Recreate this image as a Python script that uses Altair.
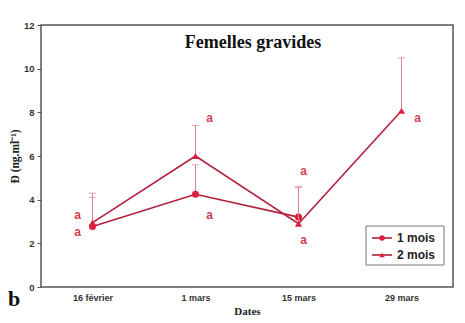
import altair as alt
import pandas as pd

dates = ["16 février", "1 mars", "15 mars", "29 mars"]

# 1 mois series (no value on 29 mars)
m1_dates = ["16 février", "1 mars", "15 mars"]
m1_vals = [2.77, 4.25, 3.2]
m1_upper = [4.1, 5.6, 4.55]

# 2 mois series
m2_dates = ["16 février", "1 mars", "15 mars", "29 mars"]
m2_vals = [2.95, 6.0, 2.9, 8.07]
m2_upper = [4.3, 7.4, 4.6, 10.5]

# significance letters
let_dates = ["16 février", "16 février", "1 mars", "1 mars", "15 mars", "15 mars", "29 mars"]
let_vals = [3.3, 2.5, 7.75, 3.3, 5.3, 2.15, 7.75]
let_text = ["a", "a", "a", "a", "a", "a", "a"]

legend_labels = ["1 mois", "2 mois"]

LINE = "#b3203c"
MARK = "#dd1f3f"
ERR = "#e3808f"
LET = "#d4404f"

d1 = pd.DataFrame({"date": m1_dates, "val": m1_vals, "up": m1_upper, "serie": "1 mois"})
d2 = pd.DataFrame({"date": m2_dates, "val": m2_vals, "up": m2_upper, "serie": "2 mois"})
dl = pd.DataFrame({"date": let_dates, "val": let_vals, "txt": let_text})

yscale = alt.Scale(domain=[0, 12])
yaxis = alt.Axis(title="Ð (ng.ml⁻¹)", values=[0, 2, 4, 6, 8, 10, 12], grid=False,
                 domain=False, tickSize=4, tickColor="#555",
                 labelFont="Liberation Sans", labelFontWeight="bold", labelFontSize=9.5,
                 labelColor="#333", labelPadding=3, titleFont="Liberation Serif",
                 titleFontWeight="bold", titleFontSize=11.5, titleColor="#222", titlePadding=3)
x = alt.X("date:N", sort=dates, scale=alt.Scale(type="point", padding=0.5, domain=dates),
          axis=alt.Axis(title="Dates", labelAngle=0, ticks=False, domain=False,
                        labelFont="Liberation Sans", labelFontWeight="bold", labelFontSize=9,
                        labelColor="#333", labelPadding=6, titleFont="Liberation Serif",
                        titleFontWeight="bold", titleFontSize=11, titleColor="#222", titlePadding=3))
y = alt.Y("val:Q", scale=yscale, axis=yaxis)
yup = alt.Y("up:Q", scale=yscale, axis=yaxis)

def series_layers(df, shape):
    base = alt.Chart(df)
    err = base.mark_rule(color=ERR, strokeWidth=1).encode(x=x, y=y, y2="up:Q")
    cap = base.mark_tick(color=ERR, thickness=1, size=7, orient="horizontal").encode(x=x, y=yup)
    line = base.mark_line(color=LINE, strokeWidth=1.6).encode(x=x, y=y)
    pts = base.mark_point(shape=shape, filled=True, color=MARK, size=50, opacity=1).encode(x=x, y=y)
    return [err, cap, line, pts]

dx_map = {"16 février": -15, "1 mars": 14, "15 mars": 5, "29 mars": 16}
letter_layers = []
for dname, dxv in dx_map.items():
    letter_layers.append(
        alt.Chart(dl).transform_filter(alt.datum.date == dname)
        .mark_text(color=LET, font="Liberation Sans", fontWeight="bold", fontSize=12, dx=dxv, baseline="middle")
        .encode(x=x, y=y, text="txt:N")
    )

# manual legend
one = pd.DataFrame({"a": [0]})
lgbox = alt.Chart(one).mark_rect(fill="white", stroke="#777", strokeWidth=1).encode(
    x=alt.value(325), x2=alt.value(403), y=alt.value(201), y2=alt.value(240))
legend_layers = [lgbox]
for i, (lab, shp) in enumerate(zip(legend_labels, ["circle", "triangle-up"])):
    yy = 213 + 17 * i
    legend_layers.append(alt.Chart(one).mark_rule(color=LINE, strokeWidth=1.6).encode(
        x=alt.value(331), x2=alt.value(351), y=alt.value(yy)))
    legend_layers.append(alt.Chart(one).mark_point(shape=shp, filled=True, color=MARK, size=30, opacity=1).encode(
        x=alt.value(341), y=alt.value(yy)))
    legend_layers.append(alt.Chart(pd.DataFrame({"t": [lab]})).mark_text(
        align="left", baseline="middle", font="Liberation Sans", fontWeight="bold",
        fontSize=12, color="#222").encode(x=alt.value(356), y=alt.value(yy), text="t:N"))

blabel = alt.Chart(pd.DataFrame({"t": ["b"]})).mark_text(
    font="Liberation Serif", fontWeight="bold", fontSize=22, color="#111", align="center", baseline="middle"
).encode(x=alt.value(-27), y=alt.value(274), text="t:N")

layers = series_layers(d1, "circle") + series_layers(d2, "triangle-up") + letter_layers + legend_layers + [blabel]

chart = alt.layer(*layers).properties(
    width=412, height=262,
    autosize=alt.AutoSizeParams(type="none"),
    padding={"left": 33, "top": 17, "right": 4, "bottom": 28},
    title=alt.TitleParams("Femelles gravides", font="Liberation Serif", fontWeight="bold", fontSize=18,
                          color="#111", anchor="middle", dy=36, dx=6),
).configure(background="white", view=alt.ViewConfig(stroke="#555", strokeWidth=1.5))

chart.save("out.html", embed_options={"renderer": "svg", "actions": False})
